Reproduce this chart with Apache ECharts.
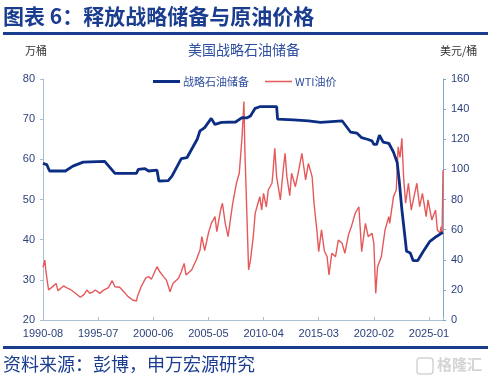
<!DOCTYPE html>
<html><head><meta charset="utf-8">
<script src="https://cdn.jsdelivr.net/npm/echarts@6/dist/echarts.min.js"></script>
<style>html,body{margin:0;padding:0;background:#fff;}#c{width:491px;height:379px;}</style>
</head><body><div id="c"></div>
<script>
const xTickLabels = ['1990-08','1995-07','2000-06','2005-05','2010-04','2015-03','2020-02','2025-01'];
const leftTicks = [20, 80, 10];
const rightTicks = [0, 160, 20];

const sprDates = ['1990-08','1990-12','1991-03','1992-08','1993-04','1994-03','1996-02','1997-01','1998-12','1999-02','1999-09','2000-01','2000-10','2000-12','2001-10','2002-02','2002-12','2003-06','2004-05','2004-08','2005-01','2005-08','2005-12','2006-07','2007-10','2008-05','2008-10','2009-02','2009-07','2009-12','2011-06','2011-07','2012-12','2014-04','2014-06','2015-05','2015-06','2017-04','2017-06','2018-01','2018-08','2019-01','2019-07','2019-12','2020-02','2020-05','2020-08','2020-12','2021-06','2021-11','2022-03','2022-05','2022-08','2022-12','2023-01','2023-05','2023-08','2024-01','2024-07','2025-02','2025-09','2026-03','2026-04'];
const sprValues = [59.0,58.7,57.1,57.1,58.3,59.3,59.5,56.5,56.5,57.5,57.7,57.1,57.3,54.6,54.7,55.8,60.2,60.4,65.0,67.1,67.9,70.2,68.7,69.2,69.3,70.4,70.3,70.8,72.7,73.1,73.1,70.0,69.8,69.6,69.2,69.2,69.6,69.6,69.2,66.8,66.5,65.4,65.0,64.6,63.7,63.7,66.0,64.3,64.0,61.8,59.2,55.0,47.5,39.2,37.1,36.7,34.8,34.8,37.1,39.6,40.8,41.7,41.8];

const wtiDates = ['1990-08','1990-10','1990-11','1991-01','1991-02','1991-05','1991-10','1991-12','1992-06','1992-09','1993-01','1993-06','1993-12','1994-04','1994-07','1994-10','1995-01','1995-04','1995-09','1995-12','1996-02','1996-06','1996-10','1997-01','1997-06','1997-12','1998-03','1998-08','1998-10','1998-12','1999-01','1999-05','1999-10','2000-01','2000-04','2000-10','2001-01','2001-05','2001-08','2001-12','2002-03','2002-09','2002-12','2003-03','2003-05','2003-11','2004-04','2004-08','2004-10','2005-01','2005-05','2005-08','2005-12','2006-02','2006-06','2006-08','2006-11','2007-02','2007-04','2007-07','2007-11','2008-02','2008-05','2008-07','2008-08','2008-10','2008-12','2009-02','2009-05','2009-07','2009-10','2009-12','2010-02','2010-04','2010-07','2010-09','2011-01','2011-02','2011-04','2011-06','2011-10','2012-01','2012-03','2012-05','2012-08','2012-10','2013-02','2013-05','2013-09','2014-01','2014-04','2014-08','2014-10','2015-01','2015-03','2015-06','2015-09','2015-12','2016-02','2016-05','2016-09','2016-12','2017-04','2017-07','2017-11','2018-02','2018-06','2018-10','2018-11','2019-01','2019-05','2019-08','2019-12','2020-02','2020-04','2020-06','2020-10','2021-02','2021-06','2021-07','2021-11','2022-02','2022-04','2022-06','2022-08','2022-10','2022-12','2023-03','2023-06','2023-09','2023-12','2024-03','2024-06','2024-10','2024-12','2025-04','2025-08','2025-10','2026-01','2026-02','2026-03','2026-04'];
const wtiValues = [35,39.8,33,24,20,21.5,24.3,19.5,22.6,21.5,20.4,18.1,15.1,17,19.9,17.7,18.5,19.9,17.7,19.5,20,21.5,26.1,22.1,21.7,17.7,15.5,13.3,14.5,12.5,15.5,22.1,28,28.8,27,35.4,32,28.8,26.5,18.8,24.3,27.7,32,37.6,29.9,33.2,39.8,46.5,55.3,46,57.6,64,68.6,58.6,73,77.5,64.2,55.3,64.2,77.5,90.8,97.4,121.7,145,112.9,73,33.2,39.8,55.3,70.8,77.5,81.9,73,84.1,75,86.3,90.8,97.4,114,95,79.7,99.6,110.7,95,82.5,97.4,88.5,97.4,110.7,93,104,95,77.5,59.8,45.4,59.8,46,42,29.9,44.3,42,53.1,51,44.3,57,62,70.8,75.2,65,45.4,64.2,55.3,57.6,50.9,17.7,35.4,42,59.8,68.6,64.2,81.9,86.3,115,108,120.6,93,77.5,90.8,73,81.9,90.8,75.2,84.1,68.6,79.7,66.4,73,59.8,57.6,62,57,99.6];

function mIdx(s){const p=s.split('-').map(Number);return (p[0]-1990)*12+(p[1]-8);}
const sprData = sprDates.map((d,i)=>[mIdx(d), sprValues[i]]);
const wtiData = wtiDates.map((d,i)=>[mIdx(d), wtiValues[i]]);
const STEP = 59;
const lastIdx = mIdx('2026-04');

const NAVY = '#1B3D8F';
const LBL = '#2B3F7A';
const AX = '#A7C0D3';
const BLUE = '#0C2D84';
const RED = '#E5595A';
// legend icons: a horizontal bar inside a 27x10 box (invisible corner points fix the box)
const iconThick = 'path://M0,0L0.01,0L0,0.01Z M0,10L0.01,10L0,9.99Z M0,3.6L27,3.6L27,6.4L0,6.4Z';
const iconThin = 'path://M0,0L0.01,0L0,0.01Z M0,10L0.01,10L0,9.99Z M0,4.3L27,4.3L27,5.7L0,5.7Z';
const chart = echarts.init(document.getElementById('c'));
chart.setOption({
  animation:false,
  backgroundColor:'#fff',
  textStyle:{fontFamily:'Liberation Sans, Arial, Noto Sans CJK SC'},
  graphic:[
    {type:'text',left:3,top:6,style:{text:'图表 6：释放战略储备与原油价格',fill:NAVY,font:'bold 21px "Noto Sans CJK SC"'}},
    {type:'rect',shape:{x:3,y:32,width:485,height:3},style:{fill:NAVY}},
    {type:'text',left:25,top:45,style:{text:'万桶',fill:'#333',font:'11px "Noto Sans CJK SC"'}},
    {type:'text',left:188,top:43,style:{text:'美国战略石油储备',fill:'#2E4E9E',font:'14px "Noto Sans CJK SC"'}},
    {type:'text',left:440,top:45,style:{text:'美元/桶',fill:'#333',font:'11px "Noto Sans CJK SC"'}},
    {type:'rect',shape:{x:3,y:346,width:485,height:3},style:{fill:NAVY}},
    {type:'text',left:3,top:355,style:{text:'资料来源：彭博，申万宏源研究',fill:NAVY,font:'18px "Noto Sans CJK SC"'}},
    {type:'rect',shape:{x:417,y:358,width:16,height:16,r:3},style:{fill:'none',stroke:'#d4d4d4',lineWidth:1.5}},
    {type:'text',left:437,top:357,style:{text:'格隆汇',fill:'#d4d4d4',font:'bold 15px "Noto Sans CJK SC"'}}
  ],
  legend:{
    left:148, top:71, itemWidth:27, itemHeight:10, itemGap:16,
    data:[{name:'战略石油储备',icon:iconThick},{name:'WTI油价',icon:iconThin}],
    textStyle:{color:'#2E4E9E',fontSize:11,fontFamily:'Noto Sans CJK SC',padding:[0,0,0,-2]}
  },
  grid:{left:43,right:48,top:79,bottom:59},
  xAxis:{
    type:'value', min:0, max:lastIdx, interval:STEP,
    axisLine:{lineStyle:{color:AX,width:1}},
    axisTick:{inside:true,length:3,lineStyle:{color:AX}},
    splitLine:{show:false},
    axisLabel:{color:LBL,fontSize:11,margin:8,showMaxLabel:true,
      formatter:v=>(v%STEP===0 && xTickLabels[v/STEP])?xTickLabels[v/STEP]:''}
  },
  yAxis:[
    {type:'value',min:leftTicks[0],max:leftTicks[1],interval:leftTicks[2],
     axisLine:{show:true,lineStyle:{color:AX}},
     axisTick:{show:true,length:3,lineStyle:{color:AX}},
     splitLine:{show:false},
     axisLabel:{color:LBL,fontSize:11,margin:8}},
    {type:'value',min:rightTicks[0],max:rightTicks[1],interval:rightTicks[2],
     axisLine:{show:true,lineStyle:{color:'#7FA7BF'}},
     axisTick:{show:true,length:3,lineStyle:{color:'#7FA7BF'}},
     splitLine:{show:false},
     axisLabel:{color:LBL,fontSize:11,margin:8}}
  ],
  series:[
    {name:'WTI油价',type:'line',yAxisIndex:1,data:wtiData,symbol:'none',
     lineStyle:{color:RED,width:1.4},itemStyle:{color:RED},z:2},
    {name:'战略石油储备',type:'line',yAxisIndex:0,data:sprData,symbol:'none',
     lineStyle:{color:BLUE,width:2.8},itemStyle:{color:BLUE},z:3}
  ]
});
</script></body></html>
